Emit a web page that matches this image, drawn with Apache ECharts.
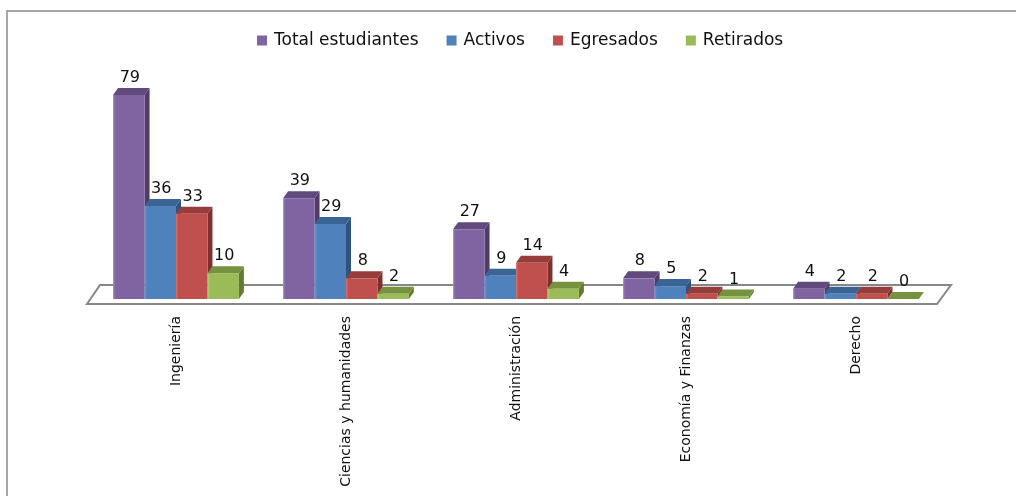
<!DOCTYPE html>
<html>
<head>
<meta charset="utf-8">
<script src="https://cdn.jsdelivr.net/npm/echarts@6/dist/echarts.min.js"></script>
<style>
  html, body { margin: 0; padding: 0; background: #fff; }
  #chart { width: 1016px; height: 496px; }
</style>
</head>
<body>
<div id="chart"></div>
<script>
// data
const categories = ['Ingeniería', 'Ciencias y humanidades', 'Administración', 'Economía y Finanzas', 'Derecho'];
const totalEstudiantes = [79, 39, 27, 8, 4];
const activos = [36, 29, 9, 5, 2];
const egresados = [33, 8, 14, 2, 2];
const retirados = [10, 2, 4, 1, 0];

// front / top / side colours for each series
const palette = [
  { front: '#8064A2', top: '#604A7E', side: '#4F3C68', light: '#9E86BC' },
  { front: '#4F81BD', top: '#3A6494', side: '#30547F', light: '#7099CC' },
  { front: '#C0504D', top: '#963C3A', side: '#7D302E', light: '#D27572' },
  { front: '#9BBB59', top: '#77923E', side: '#637A33', light: '#B5CF80' }
];

const DX = 5, DY = 7; // depth of the fake 3d

function makeBars(k) {
  const c = palette[k];
  return function (params, api) {
    const cat = api.value(0);
    const val = api.value(1);
    const base = api.coord([cat, 0]);
    const top = api.coord([cat, val]);
    const band = api.size([1, 0])[0];
    const w = band * 0.185;
    const x0 = base[0] - 2 * w + k * w;
    const yb = base[1];
    const yt = top[1];
    return {
      type: 'group',
      children: [
        {
          type: 'polygon',
          shape: { points: [[x0 + w, yb], [x0 + w + DX, yb - DY], [x0 + w + DX, yt - DY], [x0 + w, yt]] },
          style: { fill: c.side }
        },
        {
          type: 'polygon',
          shape: { points: [[x0, yt], [x0 + DX, yt - DY], [x0 + w + DX, yt - DY], [x0 + w, yt]] },
          style: { fill: c.top }
        },
        {
          type: 'rect',
          shape: { x: x0, y: yt, width: w, height: yb - yt },
          style: {
            fill: new echarts.graphic.LinearGradient(0, 0, 1, 0, [
              { offset: 0, color: c.light },
              { offset: 0.08, color: c.front },
              { offset: 1, color: c.front }
            ])
          }
        },
        {
          type: 'text',
          x: x0 + w / 2 + 1,
          y: yt - 17,
          style: {
            text: String(val),
            fill: '#111',
            font: '16px "DejaVu Sans"',
            align: 'center',
            verticalAlign: 'middle'
          }
        }
      ]
    };
  };
}

// the grey floor under the bars
function floor(params, api) {
  const cs = params.coordSys;
  const y0 = cs.y + cs.height;
  const left = cs.x, right = cs.x + cs.width;
  return {
    type: 'polygon',
    shape: {
      points: [
        [left - 4, y0 + 5], [left + 9, y0 - 14],
        [right + 10, y0 - 14], [right - 4, y0 + 5]
      ]
    },
    style: { fill: 'none', stroke: '#878787', lineWidth: 2 }
  };
}

const names = ['Total estudiantes', 'Activos', 'Egresados', 'Retirados'];
const values = [totalEstudiantes, activos, egresados, retirados];

const series = [{
  type: 'custom',
  name: 'floor',
  renderItem: floor,
  data: [[0, 0]],
  silent: true,
  z: 1
}];
names.forEach(function (n, k) {
  series.push({
    type: 'custom',
    name: n,
    renderItem: makeBars(k),
    itemStyle: { color: palette[k].front },
    encode: { x: 0, y: 1 },
    data: values[k].map(function (v, i) { return [i, v]; }),
    z: 2
  });
});

const chart = echarts.init(document.getElementById('chart'));
chart.setOption({
  animation: false,
  backgroundColor: '#fff',
  graphic: [{
    type: 'rect',
    shape: { x: 7, y: 11, width: 1020, height: 500 },
    style: { fill: 'none', stroke: '#A6A6A6', lineWidth: 2 },
    silent: true
  }],
  legend: {
    data: names,
    left: 252,
    top: 27,
    icon: 'rect',
    itemWidth: 10,
    itemHeight: 10,
    itemGap: 28,
    textStyle: {
      fontFamily: 'DejaVu Sans',
      fontSize: 17,
      color: '#111',
      padding: [0, 0, 0, 2]
    }
  },
  grid: { left: 91, right: 75, top: 92.4, bottom: 197 },
  xAxis: {
    type: 'category',
    data: categories,
    axisLine: { show: false },
    axisTick: { show: false },
    axisLabel: {
      rotate: 90,
      margin: 17,
      interval: 0,
      fontFamily: 'DejaVu Sans',
      fontSize: 14,
      color: '#111'
    }
  },
  yAxis: {
    type: 'value',
    min: 0,
    max: 80,
    show: false
  },
  series: series
});
</script>
</body>
</html>
